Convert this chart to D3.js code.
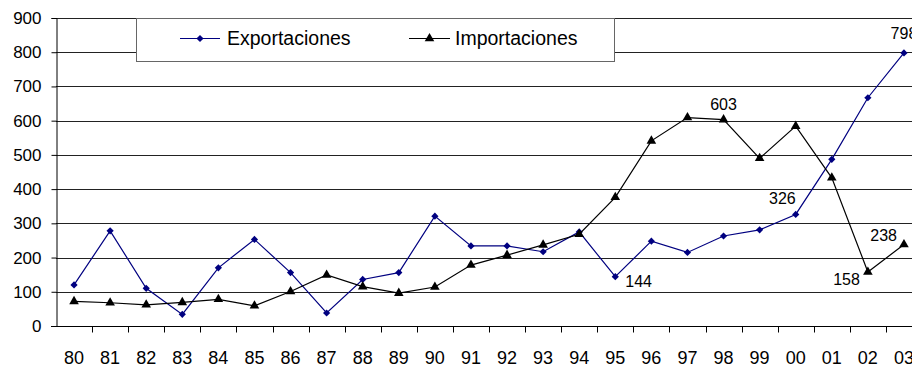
<!DOCTYPE html>
<html>
<head>
<meta charset="utf-8">
<script src="https://cdn.jsdelivr.net/npm/d3@7/dist/d3.min.js"></script>
<style>
  html, body { margin: 0; padding: 0; background: #fff; }
  svg { display: block; font-family: "Liberation Sans", Arial, sans-serif; }
</style>
</head>
<body>
<svg id="chart" width="912" height="366"></svg>
<script>
// Years (two-digit labels) and annual values
const years = ["80","81","82","83","84","85","86","87","88","89","90","91",
               "92","93","94","95","96","97","98","99","00","01","02","03"];
const exportaciones = [120, 278, 110, 34, 170, 253, 156, 38, 136, 156, 321, 234,
                       234, 217, 275, 144, 248, 215, 263, 281, 326, 487, 667, 798];
const importaciones = [72, 68, 62, 69, 78, 59, 101, 149, 115, 96, 114, 178,
                       207, 237, 268, 376, 541, 609, 603, 490, 584, 433, 158, 238];
const yTicks = [0, 100, 200, 300, 400, 500, 600, 700, 800, 900];
const seriesNames = ["Exportaciones", "Importaciones"];

// Labelled points: series, year index, dx, dy, anchor
const valueLabels = [
  { s: 0, i: 15, dx: 10, dy: 10, anchor: "start" },
  { s: 0, i: 20, dx: 0,  dy: -10, anchor: "end" },
  { s: 0, i: 23, dx: 0,  dy: -14, anchor: "middle" },
  { s: 1, i: 18, dx: 0,  dy: -10, anchor: "middle" },
  { s: 1, i: 22, dx: -8, dy: 13, anchor: "end" },
  { s: 1, i: 23, dx: -7, dy: -4, anchor: "end" }
];

const svg = d3.select("#chart");
const plotLeft = 56, plotRight = 922, plotTop = 18, plotBottom = 326;

const x = d3.scaleBand().domain(years).range([plotLeft, plotRight]);
const y = d3.scaleLinear().domain([0, 900]).range([plotBottom, plotTop]);
const cx = d => x(d) + x.bandwidth() / 2;

// Horizontal gridlines
svg.append("g")
  .selectAll("line")
  .data(yTicks.filter(t => t > 0))
  .join("line")
  .attr("x1", plotLeft).attr("x2", plotRight)
  .attr("y1", d => Math.round(y(d)) + 0.5).attr("y2", d => Math.round(y(d)) + 0.5)
  .attr("stroke", "#222").attr("stroke-width", 1);

// Y axis
const yAxis = svg.append("g")
  .attr("transform", `translate(${plotLeft + 0.5},0)`)
  .call(d3.axisLeft(y).tickValues(yTicks).tickSize(5).tickPadding(10).tickFormat(d3.format("d")));
yAxis.selectAll("text").attr("font-size", 17).attr("fill", "#000")
  .attr("font-family", "Liberation Sans, Arial, sans-serif");
yAxis.selectAll("line, path").attr("stroke", "#000");

// X axis with ticks between categories
const xAxis = svg.append("g")
  .attr("transform", `translate(0,${Math.round(plotBottom) + 0.5})`);
xAxis.append("line")
  .attr("x1", plotLeft - 5).attr("x2", plotRight).attr("stroke", "#000");
xAxis.selectAll("line.tick")
  .data(years.slice(1))
  .join("line")
  .attr("class", "tick")
  .attr("x1", d => Math.round(x(d)) + 0.5).attr("x2", d => Math.round(x(d)) + 0.5)
  .attr("y1", 0).attr("y2", 6)
  .attr("stroke", "#000");
xAxis.selectAll("text")
  .data(years)
  .join("text")
  .attr("x", d => cx(d))
  .attr("y", 37)
  .attr("text-anchor", "middle")
  .attr("font-size", 18)
  .attr("fill", "#000")
  .text(d => d);

// Marker shapes: square turned 45° for the diamond, plain triangle
const diamond = d3.symbol().type(d3.symbolSquare).size(26);
const triangle = d3.symbol().type(d3.symbolTriangle).size(40);

const series = [
  { values: exportaciones, color: "#000080", shape: diamond, rot: 45 },
  { values: importaciones, color: "#000000", shape: triangle, rot: 0 }
];

const line = d3.line().x((d, i) => cx(years[i])).y(d => y(d));

series.forEach(s => {
  svg.append("path")
    .datum(s.values)
    .attr("fill", "none")
    .attr("stroke", s.color)
    .attr("stroke-width", 1.2)
    .attr("d", line);
  svg.append("g")
    .selectAll("path")
    .data(s.values)
    .join("path")
    .attr("transform", (d, i) => `translate(${cx(years[i])},${y(d)}) rotate(${s.rot})`)
    .attr("d", s.shape())
    .attr("fill", s.color);
});

// Value labels
svg.append("g")
  .selectAll("text")
  .data(valueLabels)
  .join("text")
  .attr("x", d => cx(years[d.i]) + d.dx)
  .attr("y", d => y(series[d.s].values[d.i]) + d.dy)
  .attr("text-anchor", d => d.anchor)
  .attr("font-size", 16)
  .attr("fill", "#000")
  .text(d => series[d.s].values[d.i]);

// Legend
const legend = svg.append("g");
legend.append("rect")
  .attr("x", 136.5).attr("y", 18.5).attr("width", 478).attr("height", 43)
  .attr("fill", "#fff").attr("stroke", "#666").attr("stroke-width", 1);
const legendItems = [
  { x0: 180, x1: 220, tx: 227 },
  { x0: 409, x1: 450, tx: 455 }
];
legendItems.forEach((it, k) => {
  const s = series[k];
  legend.append("line")
    .attr("x1", it.x0).attr("x2", it.x1).attr("y1", 38.5).attr("y2", 38.5)
    .attr("stroke", s.color).attr("stroke-width", 1.2);
  legend.append("path")
    .attr("transform", `translate(${(it.x0 + it.x1) / 2},38.5) rotate(${s.rot})`)
    .attr("d", s.shape())
    .attr("fill", s.color);
  legend.append("text")
    .attr("x", it.tx).attr("y", 45)
    .attr("font-size", 19.5)
    .attr("fill", "#000")
    .text(seriesNames[k]);
});
</script>
</body>
</html>
